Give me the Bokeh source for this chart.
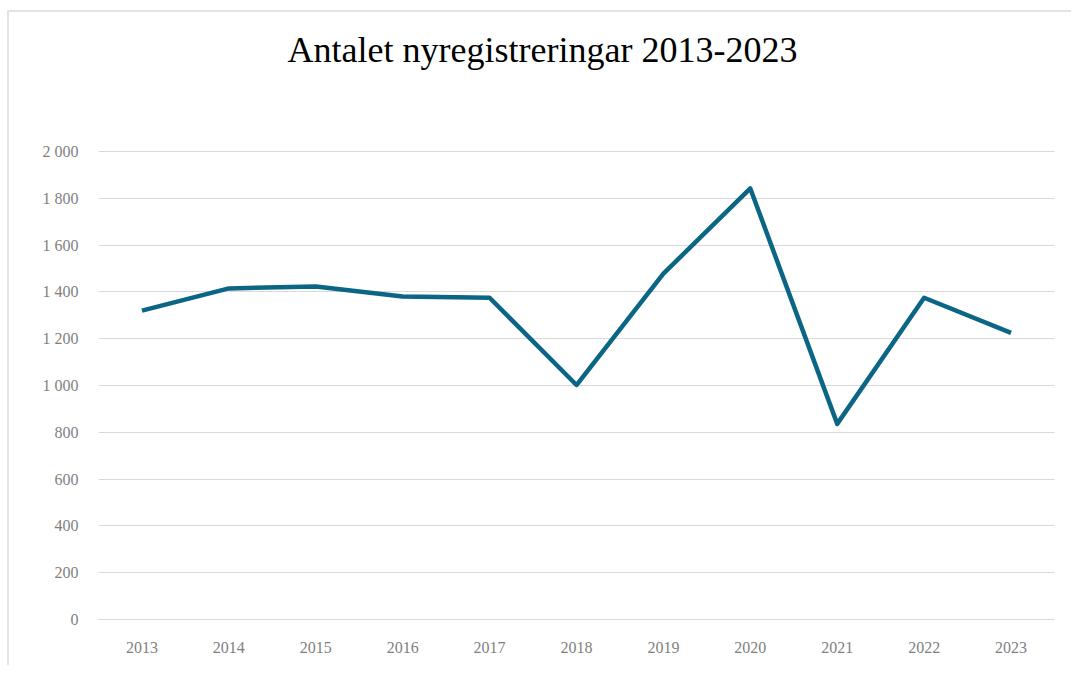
from bokeh.plotting import figure
from bokeh.models import CustomJSTickFormatter, FixedTicker, Range1d, Label
from bokeh.embed import file_html
from bokeh.resources import INLINE

years = ["2013", "2014", "2015", "2016", "2017", "2018", "2019", "2020", "2021", "2022", "2023"]
counts = [1320, 1415, 1423, 1380, 1375, 1002, 1478, 1842, 836, 1375, 1225]
y_ticks = [0, 200, 400, 600, 800, 1000, 1200, 1400, 1600, 1800, 2000]
title_text = "Antalet nyregistreringar 2013-2023"

SERIF = "Liberation Serif"

# frame extends above the top gridline so the title can sit inside it
p = figure(width=1064, height=655, x_range=years, y_range=Range1d(0, 2572.6),
           output_backend="svg", toolbar_location=None,
           min_border_left=89, min_border_right=19, min_border_top=5, min_border_bottom=48)
p.styles = {"border-left": "2px solid #e3e3e3", "border-top": "2px solid #e3e3e3",
            "border-right": "none", "margin-left": "7px", "margin-top": "10px"}

title = Label(x=444, y=2432, x_units="screen", y_units="data", text=title_text,
              text_align="center", text_baseline="middle", text_font=SERIF,
              text_font_size="36px", text_color="#000000")
p.add_layout(title)

p.line(years, counts, line_color="#0b6584", line_width=4.5, line_join="round")

p.yaxis.ticker = FixedTicker(ticks=y_ticks)
p.yaxis.formatter = CustomJSTickFormatter(code="""
return tick.toString().replace(/\\B(?=(\\d{3})+(?!\\d))/g, "\\u00a0");
""")
p.yaxis.axis_line_color = None
p.yaxis.major_tick_line_color = None
p.yaxis.minor_tick_line_color = None
p.yaxis.major_label_standoff = 14
p.yaxis.major_label_text_font = SERIF
p.yaxis.major_label_text_font_size = "16px"
p.yaxis.major_label_text_color = "#7f7f7f"

p.xaxis.axis_line_color = "#d9d9d9"
p.xaxis.major_tick_line_color = None
p.xaxis.minor_tick_line_color = None
p.xaxis.major_label_standoff = 16
p.xaxis.major_label_text_font = SERIF
p.xaxis.major_label_text_font_size = "16px"
p.xaxis.major_label_text_color = "#7f7f7f"

p.xgrid.grid_line_color = None
p.ygrid.grid_line_color = "#d9d9d9"
p.ygrid.grid_line_width = 1
p.outline_line_color = None

open("out.html", "w").write(file_html(p, INLINE))
